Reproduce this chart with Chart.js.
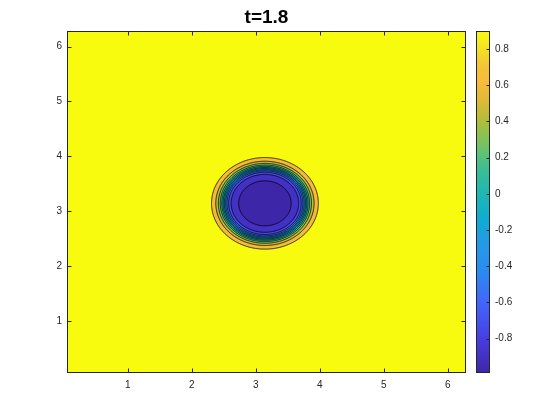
<!DOCTYPE html>
<html>
<head>
<meta charset="utf-8">
<title>t=1.8</title>
<script src="https://cdn.jsdelivr.net/npm/chart.js@4.4.1/dist/chart.umd.min.js"></script>
<style>
  body { margin: 0; background: #fff; }
  #wrap { position: relative; width: 560px; height: 420px; }
  #wrap canvas { position: absolute; left: 0; top: 0; }
</style>
</head>
<body>
<div id="wrap">
  <canvas id="plot" width="560" height="420"></canvas>
  <canvas id="cbar" width="560" height="420"></canvas>
</div>
<script>
// ---- data ----
const titleText = "t=1.8";
const axisMin = 0.049;
const axisMax = 6.2832;
const xTickValues = [1, 2, 3, 4, 5, 6];
const yTickValues = [1, 2, 3, 4, 5, 6];
const centerX = 3.1416;
const centerY = 3.1416;
const outsideValue = 0.9;
// contour levels, outer ring first, with the radius of each ring
const contourLevels = [0.75, 0.6, 0.45, 0.3, 0.15, 0, -0.15, -0.3, -0.45, -0.6, -0.75, -0.9];
const contourRadii = [0.835, 0.768, 0.728, 0.698, 0.674, 0.653, 0.634, 0.614, 0.593, 0.568, 0.528, 0.410];
const colorMin = -0.99;
const colorMax = 0.9;
const colorbarTicks = [-0.8, -0.6, -0.4, -0.2, 0, 0.2, 0.4, 0.6, 0.8];

// ---- style ----
const FONT = '"Liberation Sans", Helvetica, Arial, sans-serif';
const axisColor = "#262626";
const halfSteps = 90;
// parula-like colour map (fraction, r, g, b)
const parulaStops = [
    [0.00, 62, 38, 168],
    [0.10, 71, 62, 225],
    [0.20, 66, 100, 252],
    [0.30, 42, 140, 240],
    [0.37, 39, 152, 232],
    [0.45, 14, 172, 210],
    [0.52, 30, 182, 180],
    [0.60, 60, 190, 145],
    [0.66, 110, 195, 105],
    [0.73, 170, 190, 60],
    [0.80, 225, 185, 55],
    [0.85, 248, 186, 60],
    [0.90, 244, 196, 56],
    [0.95, 245, 226, 36],
    [1.00, 249, 251, 14]
];

function parula(value) {
    let f = (value - colorMin) / (colorMax - colorMin);
    f = Math.max(0, Math.min(1, f));
    for (let i = 1; i < parulaStops.length; i++) {
        const a = parulaStops[i - 1];
        const b = parulaStops[i];
        if (f <= b[0]) {
            const t = (f - a[0]) / (b[0] - a[0]);
            const r = Math.round(a[1] + (b[1] - a[1]) * t);
            const g = Math.round(a[2] + (b[2] - a[2]) * t);
            const bl = Math.round(a[3] + (b[3] - a[3]) * t);
            return "rgb(" + r + "," + g + "," + bl + ")";
        }
    }
    return "rgb(249,251,14)";
}

function halfCircle(r, upper) {
    const pts = [];
    for (let i = 0; i <= halfSteps; i++) {
        const a = upper ? Math.PI - Math.PI * i / halfSteps : Math.PI + Math.PI * i / halfSteps;
        pts.push({ x: centerX + r * Math.cos(a), y: centerY + r * Math.sin(a) });
    }
    return pts;
}

// inner ring first so the outer rings are drawn underneath
const datasets = [];
for (let i = contourLevels.length - 1; i >= 0; i--) {
    const inside = i + 1 < contourLevels.length ? contourLevels[i + 1] : colorMin;
    datasets.push({
        data: halfCircle(contourRadii[i], false),
        borderColor: "#000",
        borderWidth: 0.8,
        tension: 0.0001,
        pointRadius: 0,
        fill: false
    });
    datasets.push({
        data: halfCircle(contourRadii[i], true),
        borderColor: "#000",
        borderWidth: 0.8,
        tension: 0.0001,
        pointRadius: 0,
        backgroundColor: parula(inside),
        fill: "-1"
    });
}

function fixedTicks(values) {
    return function (scale) {
        scale.ticks = values.map(function (v) { return { value: v }; });
    };
}

const plotPlugin = {
    id: "plotBox",
    beforeDatasetsDraw(chart) {
        const a = chart.chartArea;
        const ctx = chart.ctx;
        ctx.save();
        ctx.fillStyle = parula(outsideValue);
        ctx.fillRect(a.left, a.top, a.right - a.left, a.bottom - a.top);
        ctx.restore();
    },
    afterDraw(chart) {
        const a = chart.chartArea;
        const ctx = chart.ctx;
        const x = chart.scales.x;
        const y = chart.scales.y;
        const tl = 4;
        ctx.save();
        ctx.strokeStyle = axisColor;
        ctx.lineWidth = 1;
        const L = Math.round(a.left) + 0.5, R = Math.round(a.right) - 0.5;
        const T = Math.round(a.top) + 0.5, B = Math.round(a.bottom) - 0.5;
        ctx.strokeRect(L, T, R - L, B - T);
        ctx.beginPath();
        xTickValues.forEach(function (v) {
            const px = Math.round(x.getPixelForValue(v)) + 0.5;
            ctx.moveTo(px, B); ctx.lineTo(px, B - tl);
            ctx.moveTo(px, T); ctx.lineTo(px, T + tl);
        });
        yTickValues.forEach(function (v) {
            const py = Math.round(y.getPixelForValue(v)) + 0.5;
            ctx.moveTo(L, py); ctx.lineTo(L + tl, py);
            ctx.moveTo(R, py); ctx.lineTo(R - tl, py);
        });
        ctx.stroke();
        ctx.fillStyle = "#000";
        ctx.font = "bold 19px " + FONT;
        ctx.textAlign = "center";
        ctx.textBaseline = "alphabetic";
        ctx.fillText(titleText, (a.left + a.right) / 2, 23);
        ctx.restore();
    }
};

new Chart(document.getElementById("plot"), {
    type: "line",
    data: { datasets: datasets },
    options: {
        responsive: false,
        animation: false,
        events: [],
        layout: { padding: { left: 0, right: 94, top: 31, bottom: 0 } },
        plugins: { legend: { display: false }, tooltip: { enabled: false }, title: { display: false } },
        scales: {
            x: {
                type: "linear",
                min: axisMin,
                max: axisMax,
                afterBuildTicks: fixedTicks(xTickValues),
                afterFit: function (s) { s.height = 47; },
                grid: { display: false, drawTicks: false },
                border: { display: false },
                ticks: { color: axisColor, font: { family: FONT, size: 10 }, padding: 6, maxRotation: 0 }
            },
            y: {
                type: "linear",
                min: axisMin,
                max: axisMax,
                afterBuildTicks: fixedTicks(yTickValues),
                afterFit: function (s) { s.width = 67; },
                grid: { display: false, drawTicks: false },
                border: { display: false },
                ticks: { color: axisColor, font: { family: FONT, size: 10 }, padding: 5 }
            }
        }
    },
    plugins: [plotPlugin]
});

// ---- colour bar ----
const cbarPlugin = {
    id: "cbarFill",
    beforeDatasetsDraw(chart) {
        const a = chart.chartArea;
        const ctx = chart.ctx;
        const y = chart.scales.y;
        const y0 = y.getPixelForValue(colorMin);
        const y1 = y.getPixelForValue(colorMax);
        const grad = ctx.createLinearGradient(0, y0, 0, y1);
        parulaStops.forEach(function (s) {
            grad.addColorStop(s[0], "rgb(" + s[1] + "," + s[2] + "," + s[3] + ")");
        });
        ctx.save();
        ctx.fillStyle = grad;
        ctx.fillRect(a.left, a.top, a.right - a.left, a.bottom - a.top);
        ctx.restore();
    },
    afterDraw(chart) {
        const a = chart.chartArea;
        const ctx = chart.ctx;
        const y = chart.scales.y;
        ctx.save();
        ctx.strokeStyle = axisColor;
        ctx.lineWidth = 1;
        const L = Math.round(a.left) + 0.5, R = Math.round(a.right) - 0.5;
        const T = Math.round(a.top) + 0.5, B = Math.round(a.bottom) - 0.5;
        ctx.strokeRect(L, T, R - L, B - T);
        ctx.beginPath();
        colorbarTicks.forEach(function (v) {
            const py = Math.round(y.getPixelForValue(v)) + 0.5;
            ctx.moveTo(R, py); ctx.lineTo(R - 3, py);
        });
        ctx.stroke();
        ctx.restore();
    }
};

new Chart(document.getElementById("cbar"), {
    type: "scatter",
    data: { datasets: [] },
    options: {
        responsive: false,
        animation: false,
        events: [],
        layout: { padding: { left: 476, right: 0, top: 31, bottom: 47 } },
        plugins: { legend: { display: false }, tooltip: { enabled: false } },
        scales: {
            x: { type: "linear", display: false, min: 0, max: 1 },
            y: {
                type: "linear",
                position: "right",
                min: colorMin,
                max: colorMax,
                afterBuildTicks: fixedTicks(colorbarTicks),
                afterFit: function (s) { s.width = 70; },
                grid: { display: false, drawTicks: false },
                border: { display: false },
                ticks: {
                    color: axisColor,
                    font: { family: FONT, size: 10 },
                    padding: 5,
                    callback: function (v) { return String(Math.round(v * 10) / 10); }
                }
            }
        }
    },
    plugins: [cbarPlugin]
});
</script>
</body>
</html>
